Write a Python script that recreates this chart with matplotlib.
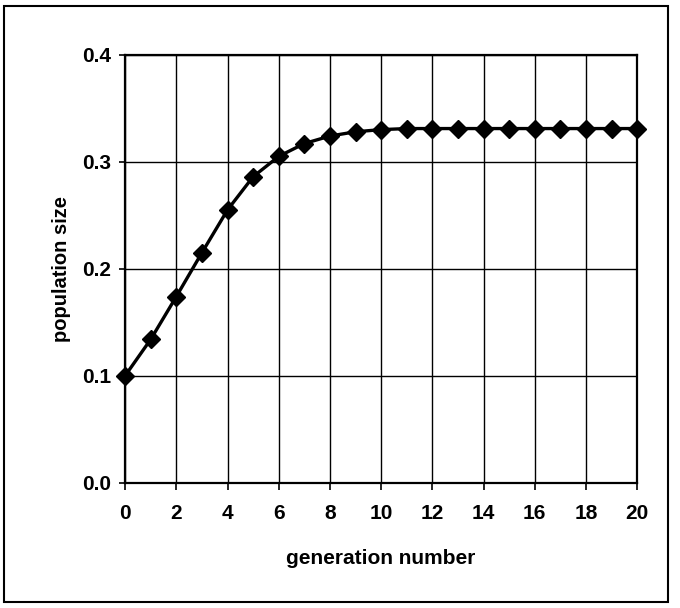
import matplotlib
matplotlib.use('Agg')
import matplotlib.pyplot as plt
from matplotlib.patches import Rectangle

# ── Data ──────────────────────────────────────────────────────
generation = list(range(0, 21))
population = [0.100, 0.134, 0.174, 0.215, 0.255, 0.286, 0.305, 0.317, 0.324, 0.328,
              0.330, 0.331, 0.331, 0.331, 0.331, 0.331, 0.331, 0.331, 0.331, 0.331, 0.331]
x_ticks = list(range(0, 21, 2))
y_ticks = [0.0, 0.1, 0.2, 0.3, 0.4]

plt.rcParams['font.family'] = ['Liberation Sans', 'DejaVu Sans']

fig = plt.figure(figsize=(6.8, 6.08), dpi=100)
# outer chart border
fig.patches.append(Rectangle((0.006, 0.01), 0.976, 0.98, transform=fig.transFigure,
                             fill=False, edgecolor='black', linewidth=1.5))

ax = fig.add_axes([0.184, 0.206, 0.753, 0.704])
ax.plot(generation, population, color='black', lw=2.4, marker='D', markersize=9.5,
        markerfacecolor='black', markeredgecolor='black', zorder=3, clip_on=False)

ax.set_xlim(0, 20)
ax.set_ylim(0, 0.4)
ax.set_xticks(x_ticks)
ax.set_yticks(y_ticks)
ax.set_yticklabels([f'{v:.1f}' for v in y_ticks])
ax.grid(True, color='black', linewidth=1)
ax.set_axisbelow(True)
for s in ax.spines.values():
    s.set_linewidth(1.6)
    s.set_color('black')

ax.tick_params(axis='x', direction='out', length=5, width=1.2, pad=10, labelsize=15)
ax.tick_params(axis='y', direction='out', length=4, width=1.2, pad=6, labelsize=15)
for lab in ax.get_xticklabels() + ax.get_yticklabels():
    lab.set_fontweight('bold')

ax.set_xlabel('generation number', fontsize=15, fontweight='bold', labelpad=19)
ax.set_ylabel('population size', fontsize=14.5, fontweight='bold', labelpad=8)

plt.savefig('out.png', dpi=100)
plt.close()
